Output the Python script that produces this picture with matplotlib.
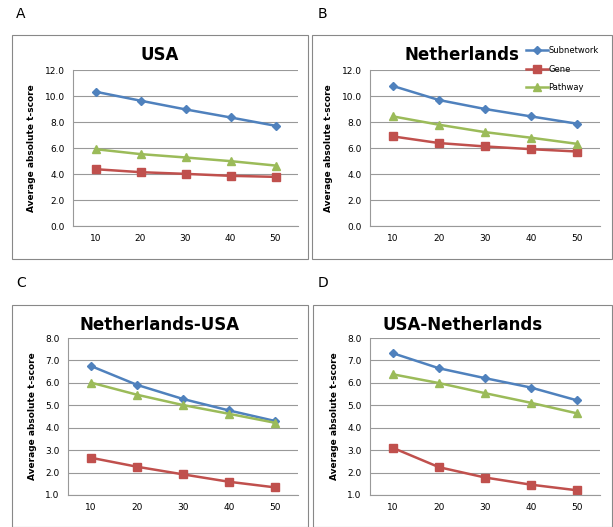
import numpy as np
import matplotlib.pyplot as plt
from matplotlib.patches import Rectangle

# data
sizes = [10, 20, 30, 40, 50]
series_names = ['Subnetwork', 'Gene', 'Pathway']

usa_subnet = [10.33, 9.64, 8.97, 8.35, 7.71]
usa_gene = [4.37, 4.14, 4.01, 3.86, 3.78]
usa_path = [5.91, 5.53, 5.27, 4.99, 4.65]

nl_subnet = [10.77, 9.69, 9.00, 8.43, 7.87]
nl_gene = [6.89, 6.38, 6.12, 5.91, 5.73]
nl_path = [8.43, 7.79, 7.22, 6.79, 6.32]

nlusa_subnet = [6.75, 5.91, 5.28, 4.77, 4.30]
nlusa_gene = [2.66, 2.26, 1.92, 1.59, 1.34]
nlusa_path = [6.01, 5.47, 5.01, 4.62, 4.22]

usanl_subnet = [7.32, 6.65, 6.21, 5.79, 5.22]
usanl_gene = [3.10, 2.24, 1.78, 1.46, 1.21]
usanl_path = [6.38, 5.99, 5.54, 5.11, 4.64]

colors = ['#4F81BD', '#C0504D', '#9BBB59']
markers = ['D', 's', '^']
msizes = [4.5, 5.5, 6]

W, H = 613, 527
fig = plt.figure(figsize=(W / 100, H / 100), dpi=100)


def px(x0, y0, x1, y1):
    # pixel box (top-left origin) -> figure fraction
    return [x0 / W, 1 - y1 / H, (x1 - x0) / W, (y1 - y0) / H]


panels = [
    ('A', 'USA', (12, 35, 308, 259), (73, 70, 298, 226), [usa_subnet, usa_gene, usa_path], (0, 12), 2, (16, 14)),
    ('B', 'Netherlands', (312, 35, 612, 259), (370, 70, 600, 226), [nl_subnet, nl_gene, nl_path], (0, 12), 2, (318, 14)),
    ('C', 'Netherlands-USA', (12, 305, 308, 527), (68, 338, 298, 495), [nlusa_subnet, nlusa_gene, nlusa_path], (1, 8), 1, (16, 283)),
    ('D', 'USA-Netherlands', (313, 305, 612, 527), (370, 338, 600, 495), [usanl_subnet, usanl_gene, usanl_path], (1, 8), 1, (318, 283)),
]

x = np.arange(len(sizes))
for letter, title, box, area, data, ylim, step, lpos in panels:
    # outer chart frame
    fig.patches.append(Rectangle((box[0] / W, 1 - box[3] / H), (box[2] - box[0]) / W,
                                 (box[3] - box[1]) / H, transform=fig.transFigure,
                                 fill=False, edgecolor='#888888', linewidth=0.8))
    fig.text(lpos[0] / W, 1 - lpos[1] / H, letter, fontsize=10, ha='left', va='center')

    ax = fig.add_axes(px(*area))
    for vals, c, m, ms, name in zip(data, colors, markers, msizes, series_names):
        ax.plot(x, vals, color=c, marker=m, markersize=ms, linewidth=1.8, label=name)
    ax.set_xlim(-0.5, 4.5)
    ax.set_ylim(*ylim)
    ax.set_yticks(np.arange(ylim[0], ylim[1] + 0.01, step))
    ax.set_yticklabels(['%.1f' % v for v in np.arange(ylim[0], ylim[1] + 0.01, step)])
    ax.set_xticks(x)
    ax.set_xticklabels(sizes)
    ax.tick_params(length=0, labelsize=6.5, pad=6)
    ax.grid(axis='y', color='#999999', linewidth=0.8)
    ax.set_axisbelow(True)
    for s in ['top', 'right']:
        ax.spines[s].set_visible(False)
    for s in ['left', 'bottom']:
        ax.spines[s].set_color('#999999')
    ax.set_ylabel('Average absolute t-score', fontsize=6.5, fontweight='bold', labelpad=6)
    cx = (box[0] + box[2]) / 2
    if letter == 'B':
        cx = 462
    fig.text(cx / W, 1 - (box[1] + 20) / H, title, fontsize=12, fontweight='bold',
             ha='center', va='center')
    if letter == 'B':
        ax.legend(loc='upper left', bbox_to_anchor=(526 / W, 1 - 46 / H),
                  bbox_transform=fig.transFigure,
                  frameon=False, fontsize=6, handlelength=2.6, labelspacing=1.15,
                  borderaxespad=0, borderpad=0, handletextpad=0.1)

plt.savefig('out.png', dpi=100)
